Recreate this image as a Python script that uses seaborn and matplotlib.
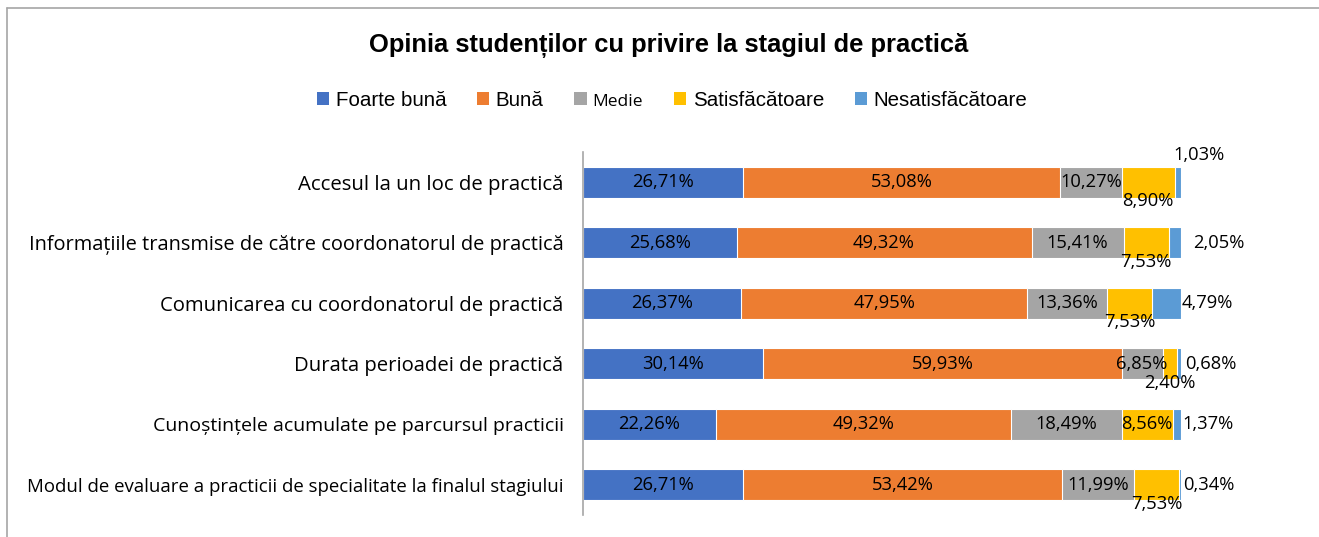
import pandas as pd
import matplotlib.pyplot as plt
from matplotlib.lines import Line2D
import seaborn as sns

# Data

categories = [
    "Accesul la un loc de practică",
    "Informațiile transmise de către coordonatorul de practică",
    "Comunicarea cu coordonatorul de practică",
    "Durata perioadei de practică",
    "Cunoștințele acumulate pe parcursul practicii",
    "Modul de evaluare a practicii de specialitate la finalul stagiului",
]

series = ["Foarte bună", "Bună", "Medie", "Satisfăcătoare", "Nesatisfăcătoare"]

foarte_buna = [26.71, 25.68, 26.37, 30.14, 22.26, 26.71]
buna = [53.08, 49.32, 47.95, 59.93, 49.32, 53.42]
medie = [10.27, 15.41, 13.36, 6.85, 18.49, 11.99]
satisfacatoare = [8.90, 7.53, 7.53, 2.40, 8.56, 7.53]
nesatisfacatoare = [1.03, 2.05, 4.79, 0.68, 1.37, 0.34]

colors = ["#4472C4", "#ED7D31", "#A5A5A5", "#FFC000", "#5B9BD5"]

# Style

sns.set_theme(style="white")
plt.rcParams["font.family"] = ["Open Sans", "DejaVu Sans"]
plt.rcParams["text.color"] = "#000000"
plt.rcParams["ytick.color"] = "#000000"

# Long table with cumulative ends

values = [foarte_buna, buna, medie, satisfacatoare, nesatisfacatoare]
df = pd.DataFrame({name: vals for name, vals in zip(series, values)})
df["Category"] = categories
cum = df[series].cumsum(axis=1)
starts = cum - df[series]

fig = plt.figure(figsize=(13.19, 5.37), dpi=100)
ax = fig.add_axes([583 / 1319, 1 - 515 / 537, 598 / 1319, 363 / 537])

# draw from the longest cumulative bar down so the segments stack
for name, color in reversed(list(zip(series, colors))):
    plot_df = pd.DataFrame({"Category": categories, "End": cum[name].values})
    sns.barplot(
        data=plot_df,
        x="End",
        y="Category",
        orient="h",
        color=color,
        saturation=1,
        width=0.51,
        edgecolor="white",
        linewidth=0.8,
        label=name,
        ax=ax,
    )

handles, labels = ax.get_legend_handles_labels()
if ax.get_legend() is not None:
    ax.get_legend().remove()

ax.set_xlim(0, 100)
ax.set_ylim(5.5, -0.5)
ax.set_xticks([])
ax.set_xlabel("")
ax.set_ylabel("")
for side in ["top", "right", "bottom"]:
    ax.spines[side].set_visible(False)
ax.spines["left"].set_color("#A6A6A6")
ax.spines["left"].set_linewidth(1.2)
ax.tick_params(axis="y", length=0, pad=14)

tick_sizes = [14.7, 14.4, 14.6, 14.6, 14.0, 13.45]
for lab, fs in zip(ax.get_yticklabels(), tick_sizes):
    lab.set_fontsize(fs)
    lab.set_color("#000000")

# Data labels

label_fs = 13.2
yellow_mode = ["below", "below", "below", "below", "center", "below"]
blue_dx = [-8, 12, 1, 4, 1, 2]
blue_dy = [27, 0, 0, 0, 0, 0]


def fmt(v):
    return f"{v:.2f}%".replace(".", ",")


for i in range(len(categories)):
    for name in series[:3]:
        s = starts.loc[i, name]
        e = cum.loc[i, name]
        ax.text((s + e) / 2, i, fmt(df.loc[i, name]), ha="center", va="center",
                fontsize=label_fs)
    s = starts.loc[i, "Satisfăcătoare"]
    e = cum.loc[i, "Satisfăcătoare"]
    yy = i + 0.31 if yellow_mode[i] == "below" else i
    ax.text((s + e) / 2, yy, fmt(df.loc[i, "Satisfăcătoare"]), ha="center", va="center",
            fontsize=label_fs)
    ax.annotate(fmt(df.loc[i, "Nesatisfăcătoare"]), xy=(cum.loc[i, "Nesatisfăcătoare"], i),
                xytext=(blue_dx[i], blue_dy[i]), textcoords="offset pixels",
                ha="left", va="center", fontsize=label_fs, annotation_clip=False)

# Title and legend

fig.text(669 / 1319, 1 - 45 / 537, "Opinia studenților cu privire la stagiul de practică",
         ha="center", va="center", fontsize=18.4, fontweight="bold",
         family=["Liberation Sans", "DejaVu Sans"])

order = [labels.index(n) for n in series]
leg = fig.legend(
    [handles[k] for k in order],
    [labels[k] for k in order],
    loc="center",
    bbox_to_anchor=(672 / 1319, 1 - 100 / 537),
    ncol=5,
    frameon=False,
    handlelength=0.6,
    handleheight=0.6,
    handletextpad=0.3,
    columnspacing=1.5,
    prop={"family": ["Liberation Sans", "DejaVu Sans"], "size": 14.8},
)
leg.get_texts()[2].set_fontfamily(["Open Sans", "DejaVu Sans"])
leg.get_texts()[2].set_fontsize(12.5)
for h in leg.legend_handles:
    h.set_edgecolor("none")

# Outer chart frame (top and left edges visible)
fig.add_artist(Line2D([7 / 1319, 1.01], [1 - 8 / 537, 1 - 8 / 537],
                      transform=fig.transFigure, color="#A6A6A6", lw=1.2))
fig.add_artist(Line2D([7 / 1319, 7 / 1319], [-0.01, 1 - 8 / 537],
                      transform=fig.transFigure, color="#A6A6A6", lw=1.2))

plt.savefig("out.png", dpi=100)
